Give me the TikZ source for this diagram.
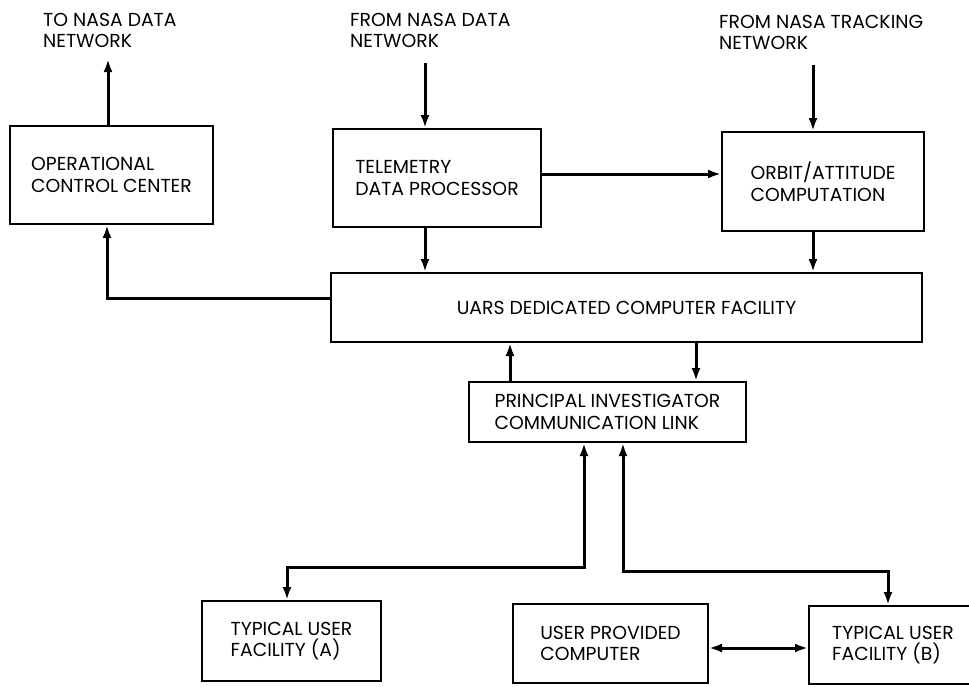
\documentclass[tikz,border=0pt]{standalone}
\usepackage{fontspec}
\setmainfont{Poppins}
\usetikzlibrary{arrows.meta}
\begin{document}
\begin{tikzpicture}[x=1pt,y=-1pt,
  txt/.style={font=\fontsize{18.8}{21.5}\selectfont},
  box/.style={draw, line width=2pt, align=left, inner sep=0pt, txt},
  lbl/.style={align=left, anchor=north west, inner sep=0pt, txt},
  arr/.style={line width=3pt, -{Latex[length=13pt,width=9pt]}},
  darr/.style={line width=3pt, {Latex[length=13pt,width=9pt]}-{Latex[length=13pt,width=9pt]}}]
\useasboundingbox (0,0) rectangle (969,686);
\clip (0,0) rectangle (969,686);
\fill[white] (0,0) rectangle (969,686);

% boxes
\node[box, minimum width=203pt, minimum height=98pt] (occ) at (111.5,175) {OPERATIONAL\\CONTROL CENTER};
\node[box, minimum width=208pt, minimum height=98pt] (tdp) at (437,178) {TELEMETRY\\DATA PROCESSOR};
\node[box, minimum width=202pt, minimum height=99pt] (orb) at (823,181.5) {ORBIT/ATTITUDE\\COMPUTATION};
\node[box, minimum width=591pt, minimum height=69pt] (uars) at (626.5,307.5) {UARS DEDICATED COMPUTER FACILITY};
\node[box, minimum width=277pt, minimum height=60pt] (pi) at (607.5,412) {PRINCIPAL INVESTIGATOR\\COMMUNICATION LINK};
\node[box, minimum width=179pt, minimum height=80pt] (tufa) at (291.5,641) {TYPICAL USER\\FACILITY (A)};
\node[box, minimum width=195pt, minimum height=79pt] (upc) at (610.5,643.5) {USER PROVIDED\\COMPUTER};
\node[box, minimum width=168pt, minimum height=78pt] (tufb) at (893,645) {TYPICAL USER\\FACILITY (B)};

% free labels
\node[lbl] (l1) at (43,13) {TO NASA DATA\\NETWORK};
\node[lbl] (l2) at (350,13) {FROM NASA DATA\\NETWORK};
\node[lbl] (l3) at (719,15) {FROM NASA TRACKING\\NETWORK};

% helper coordinates
\coordinate (xo1) at (108,0);
\coordinate (xt) at (425,0);
\coordinate (xr) at (813,0);
\coordinate (top1) at (108,59);
\coordinate (top2) at (425,63);
\coordinate (top3) at (813,65);
\coordinate (yh) at (0,174);
\coordinate (yl) at (0,298);
\coordinate (xu) at (510,0);
\coordinate (xd) at (696,0);
\coordinate (xa) at (584,0);
\coordinate (xb) at (623,0);
\coordinate (ka) at (287,567);
\coordinate (kb) at (888,571);
\coordinate (yd) at (0,648);
\coordinate (xl) at (107,0);

% connectors
\draw[arr] (occ.north -| xo1) -- (top1);
\draw[arr] (top2) -- (tdp.north -| xt);
\draw[arr] (top3) -- (orb.north -| xr);
\draw[arr] (tdp.east |- yh) -- (orb.west |- yh);
\draw[arr] (tdp.south -| xt) -- (uars.north -| xt);
\draw[arr] (orb.south -| xr) -- (uars.north -| xr);
\draw[arr] (uars.west |- yl) -| (occ.south -| xl);
\draw[arr] (pi.north -| xu) -- (uars.south -| xu);
\draw[arr] (uars.south -| xd) -- (pi.north -| xd);
\draw[darr] (pi.south -| xa) |- (ka) -- (ka |- tufa.north);
\draw[darr] (pi.south -| xb) |- (kb) -- (kb |- tufb.north);
\draw[darr] (upc.east |- yd) -- (tufb.west |- yd);
\end{tikzpicture}
\end{document}
